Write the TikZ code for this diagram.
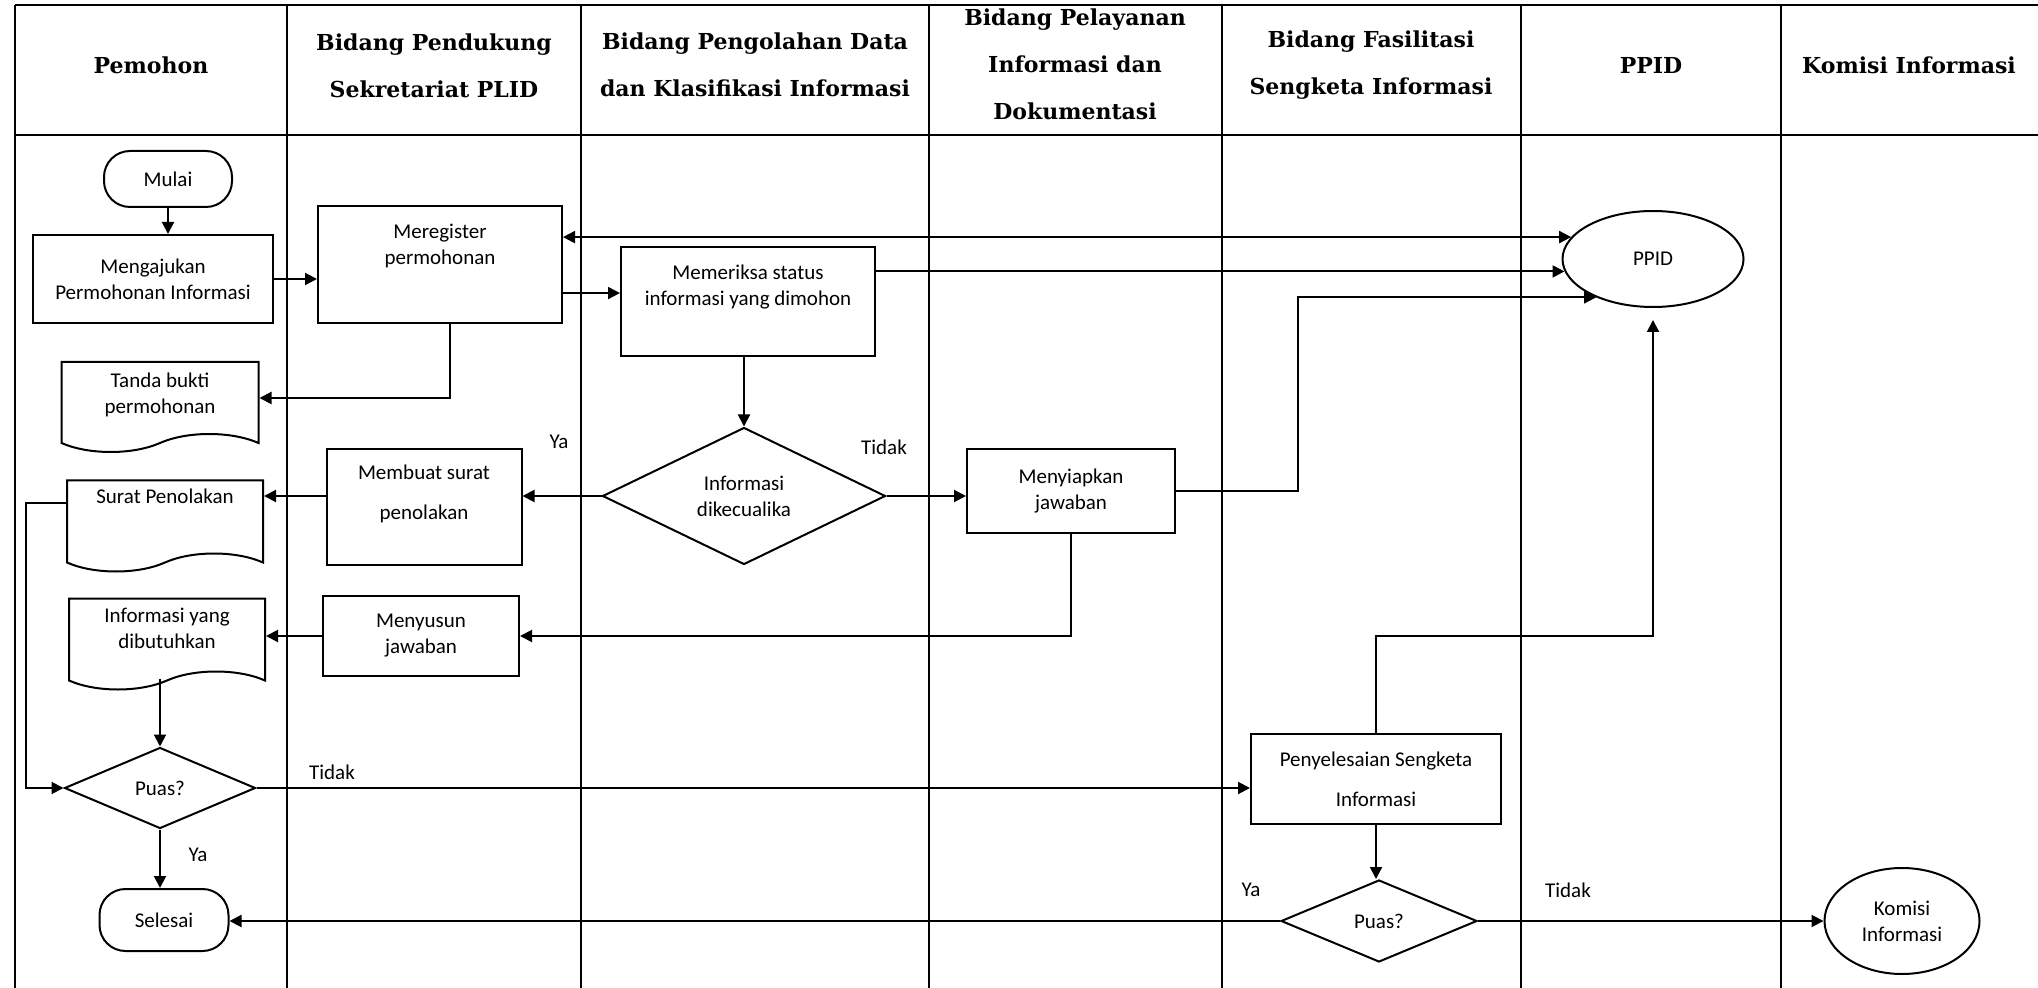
\documentclass[tikz,border=0pt]{standalone}
\usepackage{fontspec}
\setmainfont{Carlito}
\newfontfamily\headfont{DejaVu Serif}
\usetikzlibrary{arrows.meta,shapes.geometric,shapes.symbols}

\tikzset{
  lane/.style={line width=0.75pt},
  head/.style={font=\headfont\bfseries\fontsize{11}{23.5}\selectfont, align=center},
  proc/.style={draw, line width=1pt, align=center, inner sep=2pt, font=\fontsize{10.5}{13}\selectfont},
  term/.style={proc, rounded corners=13pt},
  doc/.style={proc, tape, tape bend top=none, tape bend height=9pt},
  decide/.style={proc, diamond, inner sep=0pt},
  oval/.style={proc, ellipse, inner sep=0pt},
  flow/.style={line width=1pt, -{Triangle[length=6pt,width=6pt]}},
  both/.style={line width=1pt, {Triangle[length=6pt,width=6pt]}-{Triangle[length=6pt,width=6pt]}},
  lbl/.style={font=\fontsize{10.5}{13}\selectfont}
}

\begin{document}
\begin{tikzpicture}[x=0.5pt,y=-0.5pt]
    \useasboundingbox (0,0) rectangle (2038,988);

    % Swimlanes
    \draw[lane] (15,5) -- (2038,5);
    \draw[lane] (15,135) -- (2038,135);
    \foreach \x in {15,287,581,929,1222,1521,1781}
        \draw[lane] (\x,5) -- (\x,988);

    % Lane titles
    \node[head] (hpemohon) at (151,65) {Pemohon};
    \node[head] (hplid) at (434,66) {Bidang Pendukung\\Sekretariat PLID};
    \node[head] (holah) at (755,65) {Bidang Pengolahan Data\\dan Klasifikasi Informasi};
    \node[head] (hlayan) at (1075,64) {Bidang Pelayanan\\Informasi dan\\Dokumentasi};
    \node[head] (hfasil) at (1371,65) {Bidang Fasilitasi\\Sengketa Informasi};
    \node[head] (hppid) at (1651,65) {PPID};
    \node[head] (hkomisi) at (1909,65) {Komisi Informasi};

    % Steps
    \node[term, minimum width=64pt, minimum height=28pt] (mulai) at (168,179) {Mulai};
    \node[proc, minimum width=120pt, minimum height=44pt] (ajukan) at (153,279) {Mengajukan\\Permohonan Informasi};
    \node[proc, minimum width=122pt, minimum height=58.5pt] (regist) at (440,265) {Meregister\\permohonan\\[8pt]\mbox{}};
    \node[proc, minimum width=127pt, minimum height=54.5pt] (periksa) at (748,302) {Memeriksa status\\informasi yang dimohon\\[4pt]\mbox{}};
    \node[doc, minimum width=98.5pt, minimum height=45pt] (tanda) at (160,398) {Tanda bukti\\permohonan\\[-8pt]\mbox{}};
    \node[decide, minimum width=141.5pt, minimum height=68.5pt] (kecuali) at (744,496) {Informasi\\dikecualika};
    \node[proc, minimum width=97.5pt, minimum height=58pt] (membuat) at (424,507) {Membuat surat\\[7pt]penolakan\\[2pt]\mbox{}};
    \node[doc, minimum width=98pt, minimum height=45.5pt] (surat) at (165,517) {Surat Penolakan\\[8pt]\mbox{}};
    \node[proc, minimum width=104pt, minimum height=42pt] (siapkan) at (1071,491) {Menyiapkan\\jawaban};
    \node[doc, minimum width=98pt, minimum height=45.5pt] (info) at (167,635) {Informasi yang\\dibutuhkan\\[-6pt]\mbox{}};
    \node[proc, minimum width=98pt, minimum height=40pt] (susun) at (421,636) {Menyusun\\jawaban};
    \node[decide, minimum width=95.5pt, minimum height=40.5pt] (puasA) at (160,788) {Puas?};
    \node[term, minimum width=64.5pt, minimum height=31pt] (selesai) at (164,920) {Selesai};
    \node[proc, minimum width=125pt, minimum height=45pt] (sengketa) at (1376,779) {Penyelesaian Sengketa\\[7pt]Informasi};
    \node[decide, minimum width=98pt, minimum height=41pt] (puasB) at (1379,921) {Puas?};
    \node[oval, minimum width=77.5pt, minimum height=53pt] (komisi) at (1902,921) {Komisi\\Informasi};
    \node[oval, minimum width=90.5pt, minimum height=48pt] (ppid) at (1653,259) {PPID};

    % Branch labels
    \node[lbl] (yaA) at (559,442) {Ya};
    \node[lbl] (tidakA) at (884,447) {Tidak};
    \node[lbl] (tidakB) at (332,772) {Tidak};
    \node[lbl] (yaB) at (198,855) {Ya};
    \node[lbl] (yaC) at (1251,890) {Ya};
    \node[lbl] (tidakC) at (1568,890) {Tidak};

    % Flow
    \draw[flow] (mulai.south) -- (mulai.south |- ajukan.north);
    \draw[flow] (ajukan.east) -- (ajukan.east -| regist.west);
    \draw[both] (ppid.165 -| regist.east) -- (ppid.165);
    \draw[flow] (regist.east |- periksa.176) -- (periksa.176);
    \draw[flow] (ppid.188 -| periksa.east) -- (ppid.188);
    \draw[flow] ([xshift=5pt]regist.south) |- (tanda.east);
    \draw[flow] (periksa.south -| kecuali.north) -- (kecuali.north);
    \draw[flow] (kecuali.west) -- (kecuali.west -| membuat.east);
    \draw[flow] (kecuali.east) -- (kecuali.east -| siapkan.west);
    \draw[flow] (kecuali.west -| membuat.west) -- (kecuali.west -| surat.east);
    \draw[flow] (siapkan.east) -- ++(61pt,0) |- (ppid.214);
    \draw[flow] (siapkan.south) |- (susun.east);
    \draw[flow] (susun.west) -- (susun.west -| info.east);
    \draw[flow, shorten <=3pt] (info.south -| puasA.north) -- (puasA.north);
    \draw[flow] ([yshift=7pt]surat.west) -- ++(-20pt,0) |- (puasA.west);
    \draw[flow] (puasA.south) -- (puasA.south |- selesai.north);
    \draw[flow] (puasA.east) -- (puasA.east -| sengketa.west);
    \draw[flow, shorten >=6pt] (sengketa.north) -- ++(0,48.5pt) -| (ppid.south);
    \draw[flow] (sengketa.south) -- (sengketa.south |- puasB.north);
    \draw[flow] (puasB.west) -- (puasB.west -| selesai.east);
    \draw[flow] (puasB.east) -- (komisi.west);
\end{tikzpicture}
\end{document}
